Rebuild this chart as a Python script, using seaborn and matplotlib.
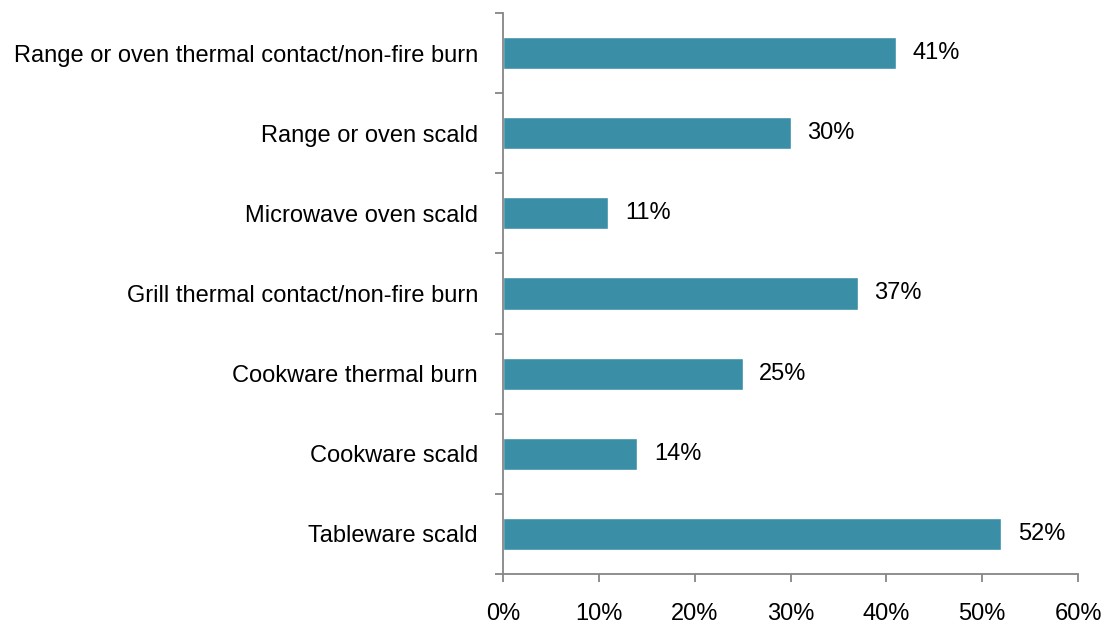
import numpy as np
import pandas as pd
import matplotlib.pyplot as plt
import seaborn as sns
from matplotlib.ticker import FixedLocator, PercentFormatter

categories = [
    "Range or oven thermal contact/non-fire burn",
    "Range or oven scald",
    "Microwave oven scald",
    "Grill thermal contact/non-fire burn",
    "Cookware thermal burn",
    "Cookware scald",
    "Tableware scald",
]
values = [41, 30, 11, 37, 25, 14, 52]

df = pd.DataFrame({"category": categories, "share": values})

sns.set_style("white")
plt.rcParams['font.family'] = ['Liberation Sans', 'DejaVu Sans']

fig = plt.figure(figsize=(11.05, 6.24), dpi=100)
ax = fig.add_axes([0.4552, 0.0801, 0.5204, 0.8991])

sns.barplot(data=df, x="share", y="category", orient="h", color="#3A8FA6",
            width=0.4, saturation=1, ax=ax)

for c in ax.containers:
    ax.bar_label(c, labels=[f"{v}%" for v in values], padding=12,
                 fontsize=17, color="black")

ax.set_xlim(0, 60)
ax.set_ylim(len(categories) - 0.5, -0.5)
ax.set_xticks(np.arange(0, 61, 10))
ax.xaxis.set_major_formatter(PercentFormatter(decimals=0))
ax.yaxis.set_minor_locator(FixedLocator(np.arange(-0.5, len(categories), 1)))

ax.set_xlabel("")
ax.set_ylabel("")

for s in ["top", "right"]:
    ax.spines[s].set_visible(False)
for s in ["left", "bottom"]:
    ax.spines[s].set_color("#868686")
    ax.spines[s].set_linewidth(1.3)

ax.tick_params(axis="x", which="major", direction="out", length=6, width=1.3,
               color="#868686", labelsize=17, labelcolor="black", pad=15, bottom=True)
ax.tick_params(axis="y", which="major", length=0, labelsize=17,
               labelcolor="black", pad=18)
ax.tick_params(axis="y", which="minor", direction="out", length=6, width=1.3,
               color="#868686", left=True)

fig.savefig("out.png", dpi=100)
